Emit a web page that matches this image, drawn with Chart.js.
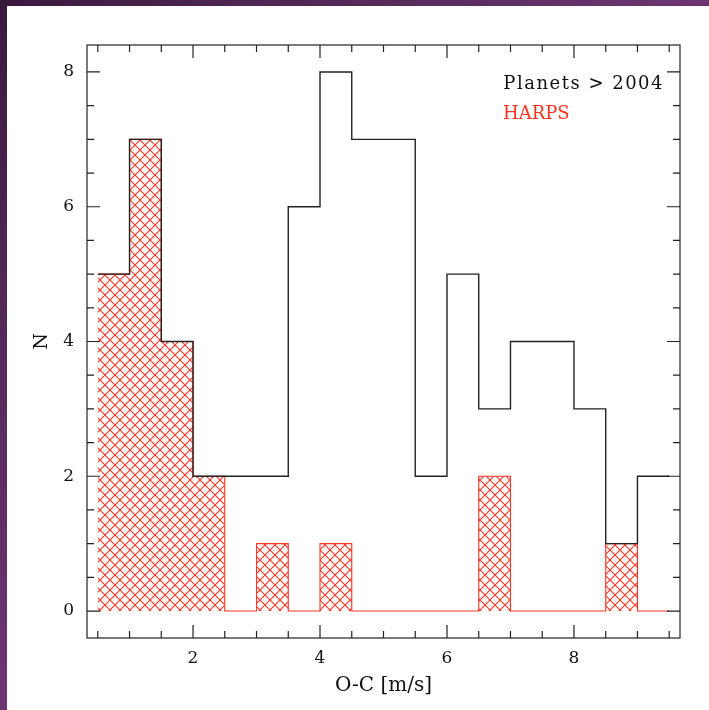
<!DOCTYPE html>
<html>
<head>
<meta charset="utf-8">
<script src="https://cdn.jsdelivr.net/npm/chart.js@4.4.1/dist/chart.umd.min.js"></script>
<style>
html, body { margin: 0; padding: 0; }
body {
    width: 709px; height: 710px; overflow: hidden; position: relative;
    background: radial-gradient(circle at 0 0, #381a3d 0px, #4e2653 250px, #6e3673 720px);
}
#panel { position: absolute; left: 7px; top: 6px; width: 702px; height: 704px; background: #fff; }
canvas { position: absolute; left: 0; top: 0; }
</style>
</head>
<body>
<div id="panel"></div>
<canvas id="histo" width="709" height="710"></canvas>
<script>
// bin edges, width 0.5 m/s
var binEdges = [0.5, 1, 1.5, 2, 2.5, 3, 3.5, 4, 4.5, 5, 5.5, 6, 6.5, 7, 7.5, 8, 8.5, 9, 9.5];
var planets = [5, 7, 4, 2, 2, 2, 6, 8, 7, 7, 2, 5, 3, 4, 4, 3, 1, 2];
var harps   = [5, 7, 4, 2, 0, 1, 0, 1, 0, 0, 0, 0, 2, 0, 0, 0, 1, 0];
var xTicks = [2, 4, 6, 8];
var yTicks = [0, 2, 4, 6, 8];

var serif = 'DejaVu Serif';

function steps(vals) {
    return binEdges.map(function (x, i) {
        return { x: x, y: vals[Math.min(i, vals.length - 1)] };
    });
}

function hatch() {
    var c = document.createElement('canvas');
    c.width = 10; c.height = 10;
    var g = c.getContext('2d');
    g.strokeStyle = '#ff3322';
    g.lineWidth = 1.1;
    g.beginPath();
    g.moveTo(-1, -1); g.lineTo(11, 11);
    g.moveTo(-1, 11); g.lineTo(11, -1);
    g.stroke();
    return g.createPattern(c, 'repeat');
}

// frame + inward ticks on all four sides, and the text key
var frame = {
    id: 'frame',
    afterDraw: function (chart) {
        var ctx = chart.ctx, a = chart.chartArea;
        var xs = chart.scales.x, ys = chart.scales.y;
        ctx.save();
        ctx.strokeStyle = '#222';
        ctx.lineWidth = 1.2;
        ctx.strokeRect(a.left, a.top, a.right - a.left, a.bottom - a.top);
        ctx.beginPath();
        for (var v = 0.5; v <= 9.5; v += 0.5) {
            var len = (v % 2 === 0) ? 13 : 7;
            var px = xs.getPixelForValue(v);
            ctx.moveTo(px, a.bottom); ctx.lineTo(px, a.bottom - len);
            ctx.moveTo(px, a.top); ctx.lineTo(px, a.top + len);
        }
        for (var w = 0; w <= 8; w += 0.5) {
            var l2 = (w % 2 === 0) ? 13 : 7;
            var py = ys.getPixelForValue(w);
            ctx.moveTo(a.left, py); ctx.lineTo(a.left + l2, py);
            ctx.moveTo(a.right, py); ctx.lineTo(a.right - l2, py);
        }
        ctx.stroke();

        ctx.font = '18px "' + serif + '"';
        ctx.textBaseline = 'alphabetic';
        ctx.fillStyle = '#111';
        ctx.textAlign = 'right';
        ctx.letterSpacing = '1.5px';
        ctx.fillText(chart.data.datasets[0].label, 664, 89);
        ctx.letterSpacing = '0px';
        ctx.fillStyle = '#ff3322';
        ctx.textAlign = 'left';
        ctx.fillText(chart.data.datasets[1].label, 503, 119);
        ctx.restore();
    }
};

new Chart(document.getElementById('histo'), {
    type: 'line',
    data: {
        datasets: [{
            label: 'Planets > 2004',
            data: steps(planets),
            stepped: 'before',
            borderColor: '#222',
            borderWidth: 1.4,
            pointRadius: 0,
            fill: false
        }, {
            label: 'HARPS',
            data: steps(harps),
            stepped: 'before',
            borderColor: '#ff3322',
            borderWidth: 1.1,
            backgroundColor: hatch(),
            pointRadius: 0,
            fill: 'origin'
        }]
    },
    options: {
        responsive: false,
        animation: false,
        layout: { padding: { left: 0, top: 45, right: 29, bottom: 0 } },
        plugins: { legend: { display: false }, tooltip: { enabled: false } },
        scales: {
            x: {
                type: 'linear',
                min: 0.33, max: 9.67,
                afterBuildTicks: function (s) { s.ticks = xTicks.map(function (v) { return { value: v }; }); },
                afterFit: function (s) { s.height = 72; },
                grid: { display: false, drawTicks: false },
                border: { display: false },
                ticks: { padding: 10, color: '#111', font: { family: serif, size: 17 } },
                title: {
                    display: true, text: 'O-C [m/s]', color: '#111',
                    font: { family: serif, size: 20 },
                    padding: { top: 0, bottom: 12 }
                }
            },
            y: {
                min: -0.4, max: 8.4,
                afterBuildTicks: function (s) { s.ticks = yTicks.map(function (v) { return { value: v }; }); },
                afterFit: function (s) { s.width = 87; },
                grid: { display: false, drawTicks: false },
                border: { display: false },
                ticks: { padding: 13, color: '#111', font: { family: serif, size: 17 } },
                title: {
                    display: true, text: 'N', color: '#111',
                    font: { family: serif, size: 19 },
                    padding: { top: 31, bottom: 0 }
                }
            }
        }
    },
    plugins: [frame]
});
</script>
</body>
</html>
